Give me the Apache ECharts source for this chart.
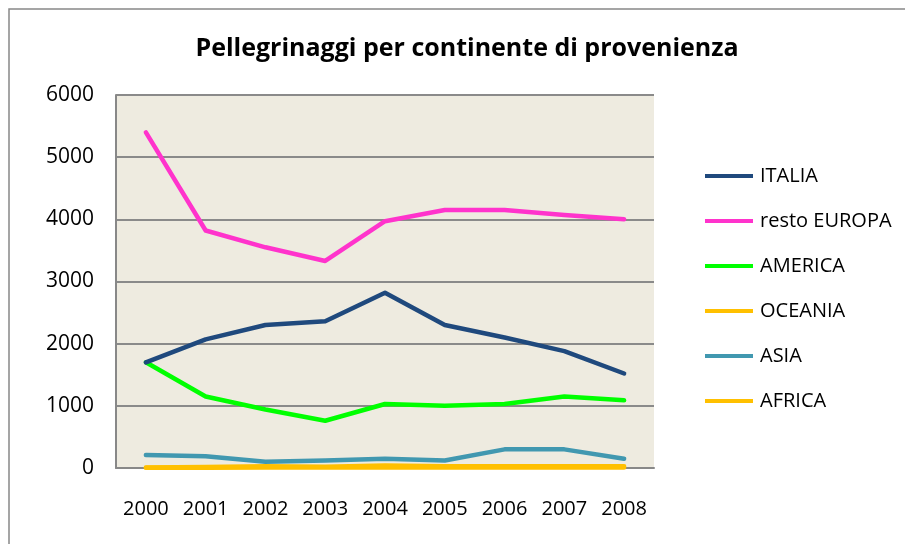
<!DOCTYPE html>
<html><head><meta charset="utf-8">
<script src="https://cdn.jsdelivr.net/npm/echarts@6/dist/echarts.min.js"></script>
<style>html,body{margin:0;padding:0;background:#fff}#c{width:905px;height:544px}</style>
</head><body><div id="c"></div>
<script>
const years = ['2000','2001','2002','2003','2004','2005','2006','2007','2008'];
const italia = [1700, 2070, 2300, 2360, 2820, 2300, 2100, 1880, 1520];
const restoEuropa = [5400, 3820, 3550, 3330, 3970, 4150, 4150, 4070, 4000];
const america = [1700, 1150, 940, 760, 1030, 1000, 1030, 1150, 1090];
const oceania = [5, 5, 10, 10, 10, 10, 10, 10, 10];
const asia = [210, 190, 100, 120, 150, 120, 300, 300, 150];
const africa = [10, 15, 30, 20, 40, 30, 30, 30, 30];
const yTicks = [0, 1000, 2000, 3000, 4000, 5000, 6000];

const font = 'Open Sans, Noto Sans, sans-serif';
function mk(name, data, color, z) {
  return {name, type:'line', data, symbol:'none', z,
    lineStyle:{color, width:4.5, cap:'round', join:'round'}, itemStyle:{color}};
}
const chart = echarts.init(document.getElementById('c'));
chart.setOption({
  animation:false,
  backgroundColor:'#fff',
  title:{text:'Pellegrinaggi per continente di provenienza', left:462, top:31, textAlign:'center',
    textStyle:{fontFamily:font, fontWeight:'bold', fontSize:25, color:'#000'}},
  graphic:[{type:'rect', shape:{x:9,y:9,width:1200,height:1200}, style:{fill:'none', stroke:'#888', lineWidth:1.5}, silent:true}],
  legend:{orient:'vertical', left:700, top:161, icon:'rect', itemWidth:48, itemHeight:4, itemGap:25,
    textStyle:{fontFamily:font, fontSize:20, color:'#000', padding:[0,0,0,2]},
    data:['ITALIA','resto EUROPA','AMERICA','OCEANIA','ASIA','AFRICA']},
  grid:{left:116, top:95, right:251, bottom:76, show:true, backgroundColor:'#EEEBE0', borderWidth:0},
  xAxis:{type:'category', data:years, boundaryGap:true,
    axisLine:{lineStyle:{color:'#888', width:2}}, axisTick:{show:false},
    axisLabel:{fontFamily:font, fontSize:20, color:'#000', margin:31, interval:0, hideOverlap:false}},
  yAxis:{type:'value', min:yTicks[0], max:yTicks[yTicks.length-1], interval:1000,
    axisLine:{show:true, lineStyle:{color:'#888', width:2}}, axisTick:{show:false},
    splitLine:{lineStyle:{color:'#8a8a8a', width:2}},
    axisLabel:{fontFamily:font, fontSize:21, color:'#000', margin:22, formatter:v=>String(v)}},
  series:[
    mk('ITALIA', italia, '#1F497D', 6),
    mk('resto EUROPA', restoEuropa, '#FF33CC', 5),
    mk('AMERICA', america, '#00FF00', 4),
    mk('OCEANIA', oceania, '#FFC000', 3),
    mk('ASIA', asia, '#4198B0', 2),
    mk('AFRICA', africa, '#FFC000', 3)
  ]
});
</script></body></html>
